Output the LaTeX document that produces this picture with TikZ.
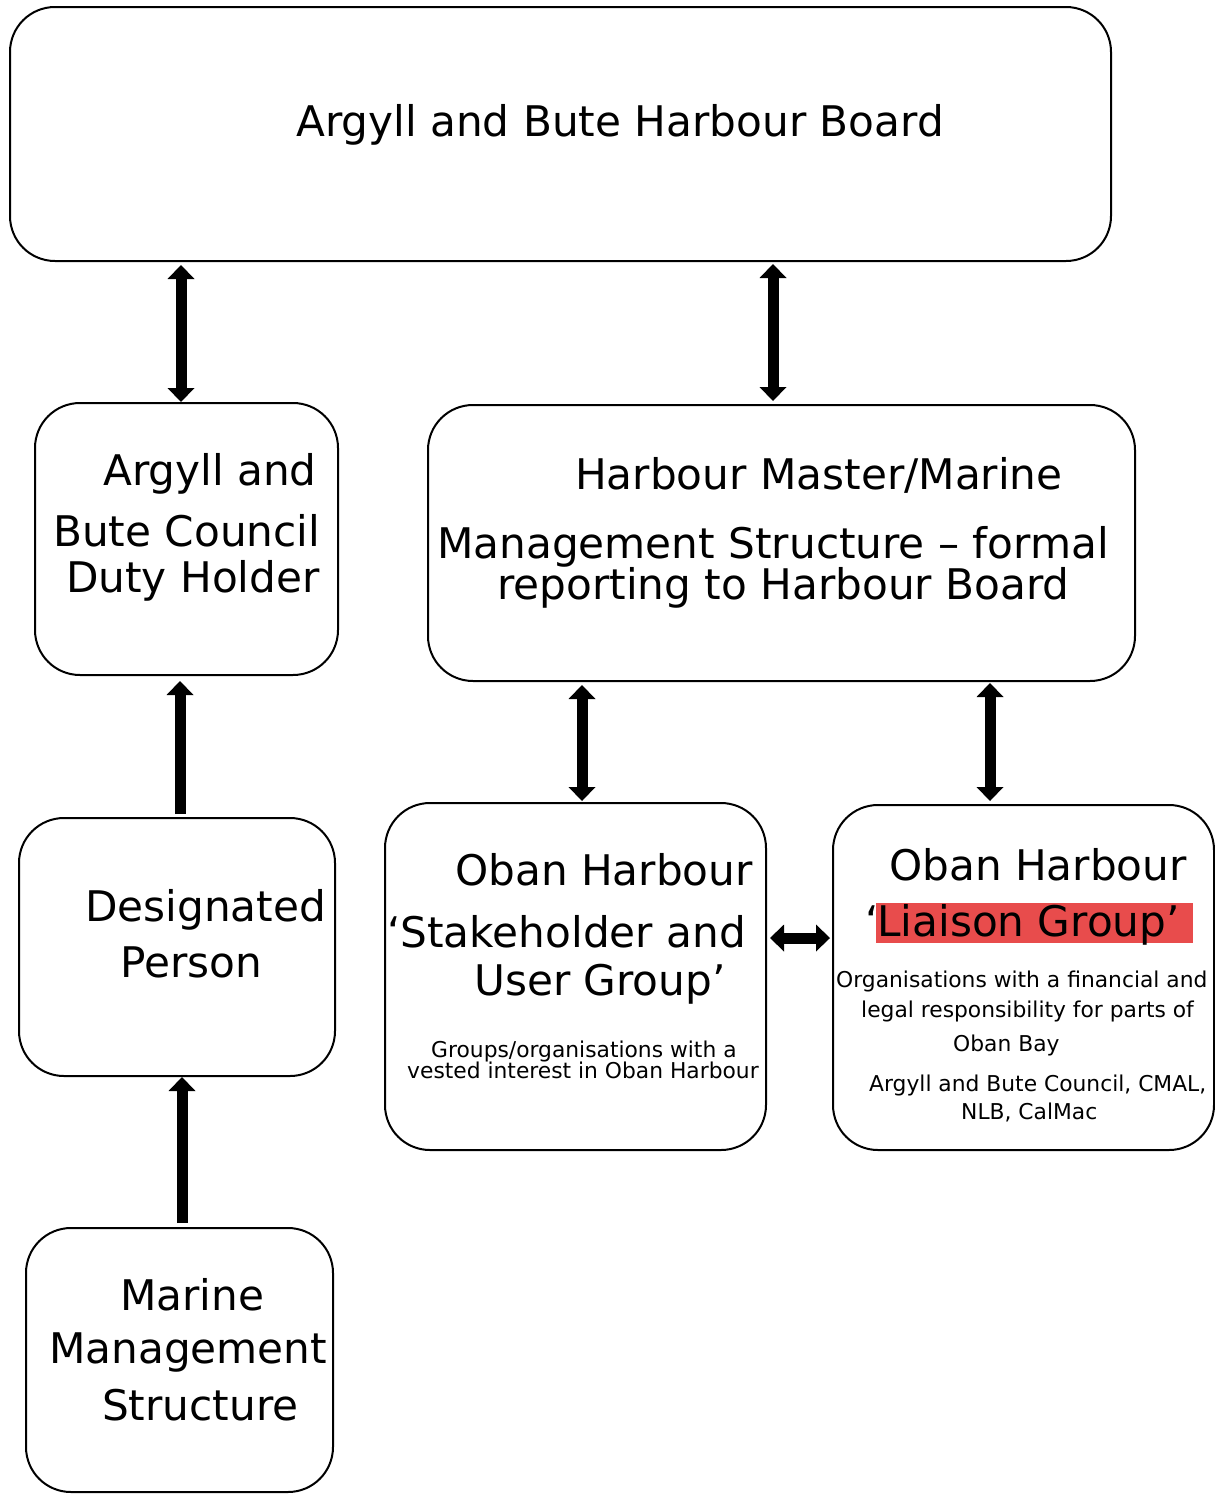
\documentclass[tikz,border=0pt]{standalone}
\usepackage{fontspec}
\setmainfont{DejaVu Sans}
\usetikzlibrary{arrows.meta}
\definecolor{hl}{RGB}{232,76,76}
\begin{document}
\begin{tikzpicture}[x=1pt,y=-1pt,
 box/.style={draw, line width=2pt, rounded corners=45pt, inner sep=0pt},
 big/.style={font=\fontsize{42.2}{48}\selectfont, inner sep=0pt, anchor=base west},
 sm/.style={font=\fontsize{21.8}{22}\selectfont, inner sep=0pt, anchor=base west},
 tip/.tip={Triangle[width=27pt,length=14pt,line width=0pt 0 0]},
 dbl/.style={line width=11pt, tip-tip},
 one/.style={line width=11pt, -tip},
]
\useasboundingbox (0,0) rectangle (1215,1494);
% boxes
\node[box, minimum width=1101, minimum height=254] (board) at (560.5,134) {};
\node[box, minimum width=303, minimum height=272] (council) at (186.5,539) {};
\node[box, minimum width=707, minimum height=276] (hm) at (781.5,543) {};
\node[box, minimum width=316, minimum height=258] (desig) at (177,947) {};
\node[box, minimum width=307, minimum height=264] (marine) at (179.5,1360) {};
\node[box, minimum width=381, minimum height=347] (stake) at (575.5,976.5) {};
\node[box, minimum width=381, minimum height=345] (liaison) at (1023.5,977.5) {};
% texts
\node[big] (t1) at (296,136) {Argyll and Bute Harbour Board};
\node[big] (t2a) at (103,485) {Argyll and};
\node[big] (t2b) at (53,546) {Bute Council};
\node[big] (t2c) at (66,592) {Duty Holder};
\node[big] (t3a) at (575,489) {Harbour Master/Marine};
\node[big] (t3b) at (437,558) {Management Structure – formal};
\node[big] (t3c) at (497,599) {reporting to Harbour Board};
\node[big] (t4a) at (85,921) {Designated};
\node[big] (t4b) at (120,977) {Person};
\node[big] (t5a) at (120,1310) {Marine};
\node[big] (t5b) at (49,1363) {Management};
\node[big] (t5c) at (102,1420) {Structure};
\node[big] (t6a) at (455,885) {Oban Harbour};
\node[big] (t6b) at (387,947) {‘Stakeholder and};
\node[big] (t6c) at (474,995) {User Group’};
\node[sm] (t6d) at (431,1057) {Groups/organisations with a};
\node[sm] (t6e) at (407,1078) {vested interest in Oban Harbour};
\node[big] (t7a) at (889,880) {Oban Harbour};
\node[fill=hl, anchor=north west, minimum width=317, minimum height=40, inner sep=0pt] (hlbox) at (876,903) {};
\node[big] (t7q) at (865,936) {‘};
\node[big] (t7b) at (877,936) {Liaison Group’};
\node[sm] (t7c) at (836,987) {Organisations with a financial and};
\node[sm] (t7d) at (861,1017) {legal responsibility for parts of};
\node[sm] (t7e) at (953,1051) {Oban Bay};
\node[sm] (t7f) at (869,1091) {Argyll and Bute Council, CMAL,};
\node[sm] (t7g) at (961,1119) {NLB, CalMac};
% connector x positions
\coordinate (x1) at (181,0);
\coordinate (x2) at (773,0);
\coordinate (x3) at (180,0);
\coordinate (x4) at (182,0);
\coordinate (x5) at (582,0);
\coordinate (x6) at (990,0);
\coordinate (y7) at (0,938);
% connectors
\draw[dbl, shorten <=3pt] (x1 |- board.south) -- (x1 |- council.north);
\draw[dbl, shorten <=2pt, shorten >=3pt] (x2 |- board.south) -- (x2 |- hm.north);
\draw[one, shorten <=3pt, shorten >=5pt] (x3 |- desig.north) -- (x3 |- council.south);
\draw[one, shorten <=4pt] (x4 |- marine.north) -- (x4 |- desig.south);
\draw[dbl, shorten <=3pt, shorten >=1pt] (x5 |- hm.south) -- (x5 |- stake.north);
\draw[dbl, shorten <=1pt, shorten >=3pt] (x6 |- hm.south) -- (x6 |- liaison.north);
\draw[dbl, shorten <=3pt, shorten >=2pt] (y7 -| stake.east) -- (y7 -| liaison.west);
\end{tikzpicture}
\end{document}
